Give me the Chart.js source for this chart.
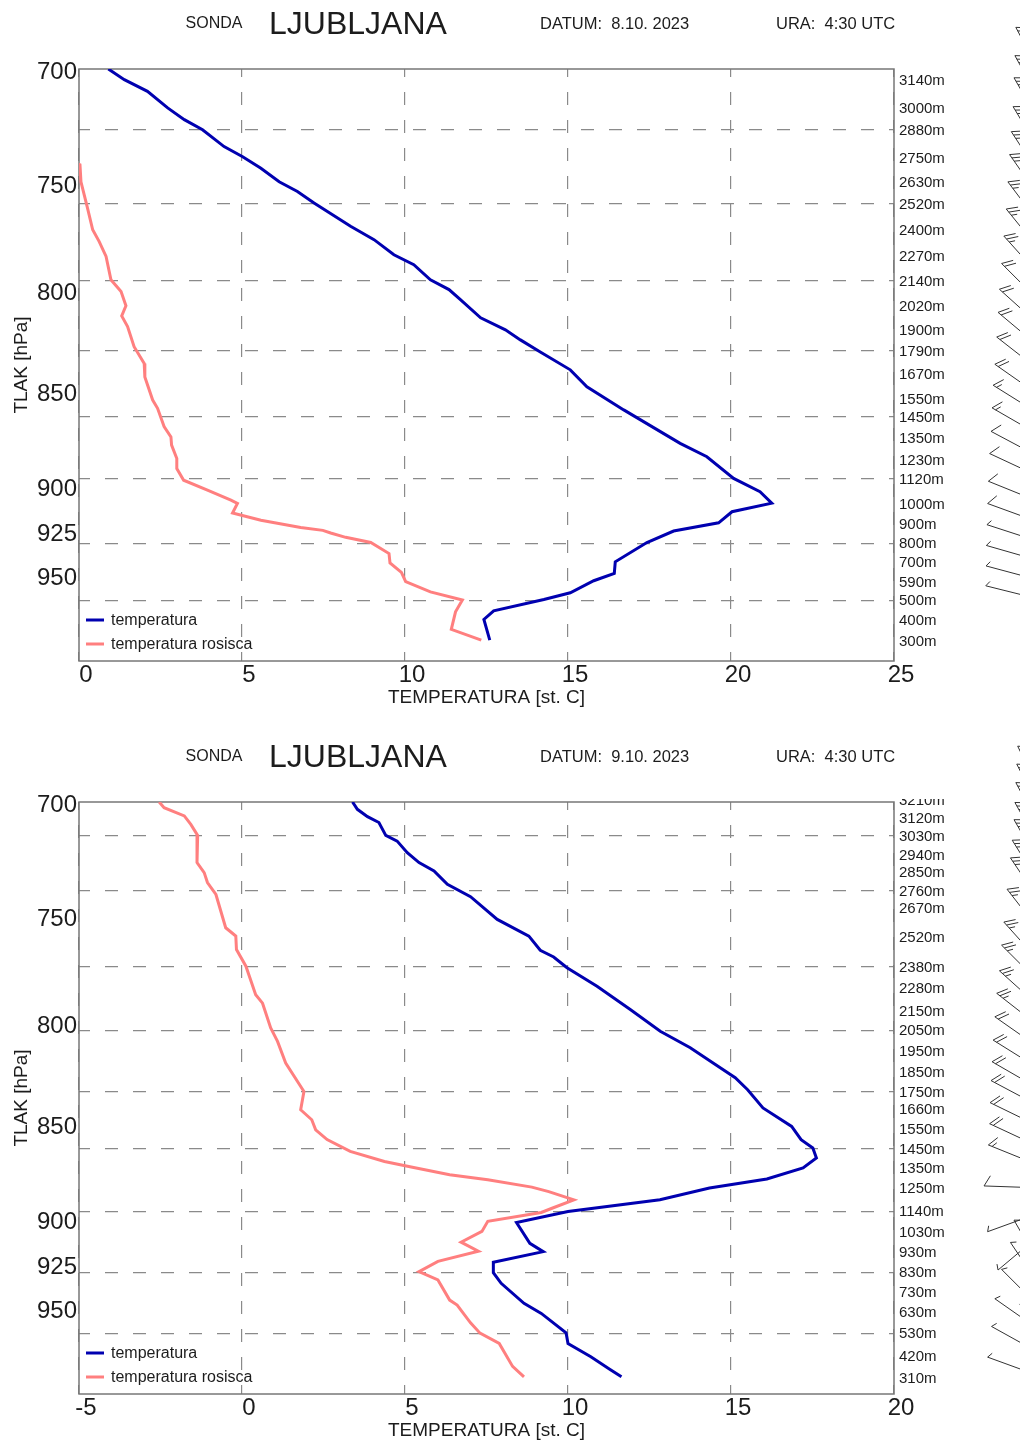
<!DOCTYPE html>
<html>
<head>
<meta charset="utf-8">
<script src="https://cdn.jsdelivr.net/npm/chart.js@4/dist/chart.umd.min.js"></script>
<style>
html,body{margin:0;padding:0;background:#fff;overflow:hidden;}
#wrap{position:relative;width:1020px;height:1443px;}
.box{position:absolute;left:0;width:1020px;height:733px;}
canvas{display:block;}
</style>
</head>
<body>
<div id="wrap">
  <div class="box" style="top:0"><canvas id="c1" width="1020" height="733"></canvas></div>
  <div class="box" style="top:733px"><canvas id="c2" width="1020" height="733"></canvas></div>
</div>
<script>
// ---------- texts ----------
const soundingLabel = 'SONDA';
const stationName = 'LJUBLJANA';
const dateLabel1 = 'DATUM:  8.10. 2023';
const dateLabel2 = 'DATUM:  9.10. 2023';
const timeLabel = 'URA:  4:30 UTC';
const yTitle = 'TLAK [hPa]';
const xTitle = 'TEMPERATURA [st. C]';
const seriesTempLabel = 'temperatura';
const seriesDewLabel = 'temperatura rosisca';

// ---------- tick labels ----------
const pressureTicks = [700, 750, 800, 850, 900, 925, 950];
const tempTicks1 = [0, 5, 10, 15, 20, 25];
const tempTicks2 = [-5, 0, 5, 10, 15, 20];

// ---------- sounding 1 (8.10.2023) ----------
const tempP1 = [700.0, 704.5, 709.5, 716.6, 721.7, 726.1, 733.5, 738.0, 743.1, 749.2, 753.6, 758.9, 769.6, 775.8, 782.9, 787.6, 794.8, 799.5, 804.4, 813.2, 819.1, 824.1, 830.1, 839.1, 847.7, 859.6, 877.1, 884.2, 895.8, 903.0, 909.3, 914.0, 920.1, 924.7, 931.1, 942.0, 948.6, 952.8, 959.7, 963.6, 970.2, 975.3, 987.5];
const tempT1 = [0.9, 1.39, 2.10, 2.72, 3.23, 3.79, 4.45, 5.02, 5.58, 6.14, 6.70, 7.21, 8.33, 9.05, 9.66, 10.27, 10.78, 11.35, 11.70, 12.32, 13.08, 13.54, 14.15, 15.07, 15.58, 16.71, 18.44, 19.26, 20.08, 20.89, 21.25, 20.03, 19.62, 18.24, 17.42, 16.45, 16.42, 15.79, 15.07, 14.26, 12.72, 12.42, 12.60];
const dewP1 = [738.0, 741.6, 749.2, 760.5, 771.2, 776.7, 783.7, 794.8, 800.4, 807.3, 812.3, 817.5, 827.5, 835.9, 842.7, 854.5, 858.8, 868.3, 873.7, 878.0, 885.1, 890.5, 896.8, 902.2, 907.6, 909.4, 914.7, 918.7, 922.7, 924.3, 925.8, 928.2, 931.1, 937.3, 942.6, 948.0, 953.3, 959.2, 963.9, 970.8, 981.1, 987.5];
const dewT1 = [-0.5, 0.03, 0.06, 0.25, 0.42, 0.62, 0.83, 0.98, 1.29, 1.44, 1.31, 1.49, 1.69, 2.00, 2.02, 2.26, 2.41, 2.61, 2.82, 2.84, 3.00, 3.00, 3.21, 3.94, 4.66, 4.86, 4.71, 5.58, 6.80, 7.48, 7.72, 8.18, 8.95, 9.51, 9.54, 9.89, 10.02, 10.78, 11.76, 11.55, 11.42, 12.34];
const levelP1 = [704.8, 716.7, 726.1, 738.6, 749.3, 759.2, 771.2, 783.3, 795.2, 807.4, 818.9, 829.6, 841.2, 853.8, 863.3, 874.2, 885.7, 896.1, 909.6, 920.8, 931.5, 942.1, 953.2, 964.1, 975.5, 987.8];
const levelH1 = [3140, 3000, 2880, 2750, 2630, 2520, 2400, 2270, 2140, 2020, 1900, 1790, 1670, 1550, 1450, 1350, 1230, 1120, 1000, 900, 800, 700, 590, 500, 400, 300];
const windDir1 = [332, 331, 330, 329, 327, 325, 323, 321, 318, 315, 312, 310, 308, 305, 302, 300, 298, 295, 292, 290, 288, 286, 285, 284, 0, 0];
const windSpd1 = [30, 30, 30, 28, 28, 26, 25, 25, 24, 22, 22, 20, 20, 18, 16, 15, 12, 10, 8, 8, 6, 6, 5, 5, 0, 0];

// ---------- sounding 2 (9.10.2023) ----------
const tempP2 = [700.0, 703.1, 706.2, 708.7, 714.2, 716.7, 721.7, 726.0, 729.7, 735.6, 741.1, 751.3, 758.9, 765.4, 768.5, 773.5, 782.2, 793.2, 803.7, 811.7, 820.0, 826.5, 832.5, 841.7, 851.1, 857.9, 862.2, 867.4, 872.7, 878.5, 883.3, 889.6, 895.9, 901.9, 913.2, 917.8, 923.7, 929.5, 935.5, 946.8, 952.6, 963.8, 970.0, 977.8, 985.3, 989.7];
const tempT2 = [3.39, 3.54, 3.85, 4.20, 4.41, 4.76, 5.07, 5.43, 5.89, 6.30, 7.01, 7.83, 8.80, 9.15, 9.56, 9.97, 10.89, 11.91, 12.83, 13.75, 14.52, 15.13, 15.51, 15.98, 16.86, 17.15, 17.51, 17.62, 17.21, 16.10, 14.34, 12.82, 10.00, 8.42, 8.83, 9.24, 7.71, 7.71, 7.95, 8.65, 9.18, 9.94, 10.00, 10.70, 11.29, 11.64];
const dewP2 = [700.0, 702.4, 705.9, 709.5, 714.2, 726.0, 730.4, 734.8, 740.1, 755.1, 758.9, 765.1, 772.8, 786.2, 790.2, 802.1, 808.6, 819.2, 833.4, 842.6, 847.7, 852.9, 857.9, 864.0, 869.3, 872.2, 876.3, 878.9, 882.8, 885.2, 889.6, 894.0, 896.4, 901.2, 906.7, 912.6, 917.6, 923.2, 928.9, 933.6, 945.0, 947.8, 958.0, 964.0, 970.0, 983.5, 989.7];
const dewT2 = [-2.54, -2.39, -1.77, -1.57, -1.36, -1.38, -1.16, -1.06, -0.80, -0.50, -0.19, -0.17, 0.12, 0.42, 0.63, 0.88, 1.09, 1.34, 1.90, 1.80, 2.14, 2.26, 2.61, 3.32, 4.37, 5.19, 6.37, 7.54, 8.89, 9.41, 10.18, 9.53, 9.18, 7.54, 7.36, 6.72, 7.25, 6.01, 5.43, 6.01, 6.37, 6.60, 7.01, 7.30, 7.89, 8.30, 8.65];
const levelP2 = [699.2, 706.6, 714.3, 722.7, 730.0, 738.6, 746.0, 759.1, 773.0, 782.8, 793.9, 803.2, 813.4, 823.6, 833.5, 842.1, 852.4, 862.8, 872.4, 883.3, 895.7, 906.7, 918.1, 929.2, 940.5, 951.7, 964.0, 977.1, 990.2];
const levelH2 = [3210, 3120, 3030, 2940, 2850, 2760, 2670, 2520, 2380, 2280, 2150, 2050, 1950, 1850, 1750, 1660, 1550, 1450, 1350, 1250, 1140, 1030, 930, 830, 730, 630, 530, 420, 310];
const windDir2 = [334, 333, 332, 331, 330, 328, 326, 322, 318, 315, 312, 308, 305, 302, 300, 298, 296, 295, 292, 272, 250, 230, 200, 330, 326, 315, 305, 299, 290];
const windSpd2 = [30, 30, 30, 30, 28, 28, 28, 26, 26, 25, 25, 24, 22, 22, 20, 20, 18, 18, 15, 10, 5, 5, 5, 3, 3, 3, 3, 3, 3];

// ---------- styling ----------
const FONT = "'Liberation Sans', Arial, Helvetica, sans-serif";
const TEXT = '#1c1c1c';
const GRID = '#8a8a8a';
const BLUE = '#0000b0';
const RED = '#ff7f7f';

const headerPlugin = {
  id: 'header',
  afterDraw(chart, args, o) {
    const c = chart.ctx;
    c.save();
    c.fillStyle = TEXT;
    c.textBaseline = 'middle';
    c.textAlign = 'center';
    c.font = '16px ' + FONT;
    c.fillText(soundingLabel, 214, 24);
    c.textAlign = 'left';
    c.font = '32px ' + FONT;
    c.fillText(stationName, 269, 25);
    c.font = '16.5px ' + FONT;
    c.fillText(o.date, 540, 24);
    c.fillText(timeLabel, 776, 24);
    c.restore();
  }
};

const framePlugin = {
  id: 'frame',
  beforeDatasetsDraw(chart) {
    const {ctx, chartArea: a} = chart;
    ctx.save();
    ctx.strokeStyle = '#777';
    ctx.lineWidth = 1.5;
    ctx.strokeRect(a.left, a.top, a.right - a.left, a.bottom - a.top);
    ctx.restore();
  }
};

const legendPlugin = {
  id: 'inlegend',
  afterDatasetsDraw(chart) {
    const {ctx, chartArea: a} = chart;
    ctx.save();
    chart.data.datasets.forEach((ds, i) => {
      const y = a.bottom - 41 + i * 24;
      ctx.strokeStyle = ds.borderColor;
      ctx.lineWidth = 3;
      ctx.beginPath();
      ctx.moveTo(a.left + 7, y);
      ctx.lineTo(a.left + 25, y);
      ctx.stroke();
      ctx.fillStyle = TEXT;
      ctx.font = '16px ' + FONT;
      ctx.textBaseline = 'middle';
      ctx.textAlign = 'left';
      ctx.fillText(ds.label, a.left + 32, y + 1);
    });
    ctx.restore();
  }
};

const topClipPlugin = {
  id: 'topclip',
  afterDraw(chart) {
    const {ctx, chartArea: a} = chart;
    ctx.save();
    ctx.fillStyle = '#fff';
    ctx.fillRect(a.right + 3, a.top - 40, 75, 37);
    ctx.restore();
  }
};

const barbPlugin = {
  id: 'barbs',
  afterDraw(chart, args, o) {
    const ctx = chart.ctx, ys = chart.scales.yr;
    ctx.save();
    ctx.strokeStyle = '#333';
    ctx.fillStyle = '#333';
    ctx.lineWidth = 1;
    o.levels.forEach((p, i) => {
      const spd = o.speed[i];
      if (!spd) return;
      const th = o.dir[i] * Math.PI / 180;
      const ux = Math.sin(th), uy = -Math.cos(th);
      const bx = chart.chartArea.right + 150, by = ys.getPixelForValue(p);
      const L = 60;
      const tx = bx + ux * L, ty = by + uy * L;
      ctx.beginPath();
      ctx.moveTo(bx, by);
      ctx.lineTo(tx, ty);
      ctx.stroke();
      const px = -uy, py = ux;
      const fx = px * 0.866 - ux * 0.5, fy = py * 0.866 - uy * 0.5;
      let rem = Math.round(spd / 5) * 5, pos = 0;
      while (rem >= 50) {
        const sx = tx - ux * pos, sy = ty - uy * pos;
        ctx.beginPath();
        ctx.moveTo(sx, sy);
        ctx.lineTo(sx + fx * 12, sy + fy * 12);
        ctx.lineTo(sx - ux * 6, sy - uy * 6);
        ctx.closePath();
        ctx.fill();
        rem -= 50; pos += 8;
      }
      while (rem >= 10) {
        const sx = tx - ux * pos, sy = ty - uy * pos;
        ctx.beginPath();
        ctx.moveTo(sx, sy);
        ctx.lineTo(sx + fx * 12, sy + fy * 12);
        ctx.stroke();
        rem -= 10; pos += 4;
      }
      if (rem >= 5) {
        const sx = tx - ux * pos, sy = ty - uy * pos;
        ctx.beginPath();
        ctx.moveTo(sx, sy);
        ctx.lineTo(sx + fx * 6, sy + fy * 6);
        ctx.stroke();
      }
    });
    ctx.restore();
  }
};

function toPoints(ps, ts) {
  return ps.map((p, i) => ({x: ts[i], y: p}));
}

function makeChart(id, s) {
  const n = s.levP.length;
  return new Chart(document.getElementById(id), {
    type: 'scatter',
    data: {
      datasets: [
        {label: seriesTempLabel, data: toPoints(s.tP, s.tT), borderColor: BLUE, backgroundColor: BLUE,
         borderWidth: 3, pointRadius: 0, showLine: true, tension: 0, yAxisID: 'y', xAxisID: 'x'},
        {label: seriesDewLabel, data: toPoints(s.dP, s.dT), borderColor: RED, backgroundColor: RED,
         borderWidth: 3, pointRadius: 0, showLine: true, tension: 0, yAxisID: 'y', xAxisID: 'x'}
      ]
    },
    options: {
      responsive: false,
      animation: false,
      events: [],
      layout: {padding: {top: 69, left: 0, right: 0, bottom: 0}},
      plugins: {
        legend: {display: false},
        tooltip: {enabled: false},
        header: {date: s.date},
        barbs: {levels: s.levP, dir: s.wDir, speed: s.wSpd}
      },
      scales: {
        x: {
          type: 'linear', position: 'bottom', min: s.xTicks[0], max: s.xTicks[s.xTicks.length - 1],
          afterBuildTicks: sc => { sc.ticks = s.xTicks.map(v => ({value: v})); },
          afterFit: sc => { sc.height = 72; },
          ticks: {font: {family: FONT, size: 24}, color: TEXT, padding: 0, labelOffset: 7, maxRotation: 0, autoSkip: false,
                  callback: v => String(v)},
          grid: {color: GRID, lineWidth: 1.2, drawTicks: false},
          border: {display: false, dash: [13, 15], dashOffset: 5},
          title: {display: true, text: xTitle, color: TEXT, font: {family: FONT, size: 19}, padding: {top: 0, bottom: 24}}
        },
        y: {
          type: 'logarithmic', position: 'left', min: 700, max: 1000, reverse: true,
          afterBuildTicks: sc => { sc.ticks = pressureTicks.map(v => ({value: v})); },
          afterFit: sc => { sc.width = 79; },
          ticks: {font: {family: FONT, size: 24}, color: TEXT, padding: 2, labelOffset: 3, autoSkip: false,
                  callback: v => String(v)},
          grid: {display: false, drawTicks: false},
          border: {display: false},
          title: {display: true, text: yTitle, color: TEXT, font: {family: FONT, size: 19}, padding: {top: 10, bottom: 0}}
        },
        yr: {
          type: 'logarithmic', position: 'right', min: 700, max: 1000, reverse: true,
          afterBuildTicks: sc => { sc.ticks = s.levP.map(v => ({value: v})); },
          afterFit: sc => { sc.width = 126; },
          ticks: {font: {family: FONT, size: 15}, color: TEXT, padding: 5, labelOffset: 1, autoSkip: false,
                  callback: (v, i) => s.levH[i] + 'm'},
          grid: {drawTicks: false, lineWidth: 1.2,
                 color: c => ((n - 1 - c.index) % 3 === 2 ? GRID : 'rgba(0,0,0,0)')},
          border: {display: false, dash: [13, 15], dashOffset: 2}
        }
      }
    },
    plugins: [framePlugin, headerPlugin, legendPlugin, topClipPlugin, barbPlugin]
  });
}

makeChart('c1', {date: dateLabel1, xTicks: tempTicks1, tP: tempP1, tT: tempT1, dP: dewP1, dT: dewT1,
                 levP: levelP1, levH: levelH1, wDir: windDir1, wSpd: windSpd1});
makeChart('c2', {date: dateLabel2, xTicks: tempTicks2, tP: tempP2, tT: tempT2, dP: dewP2, dT: dewT2,
                 levP: levelP2, levH: levelH2, wDir: windDir2, wSpd: windSpd2});
</script>
</body>
</html>
